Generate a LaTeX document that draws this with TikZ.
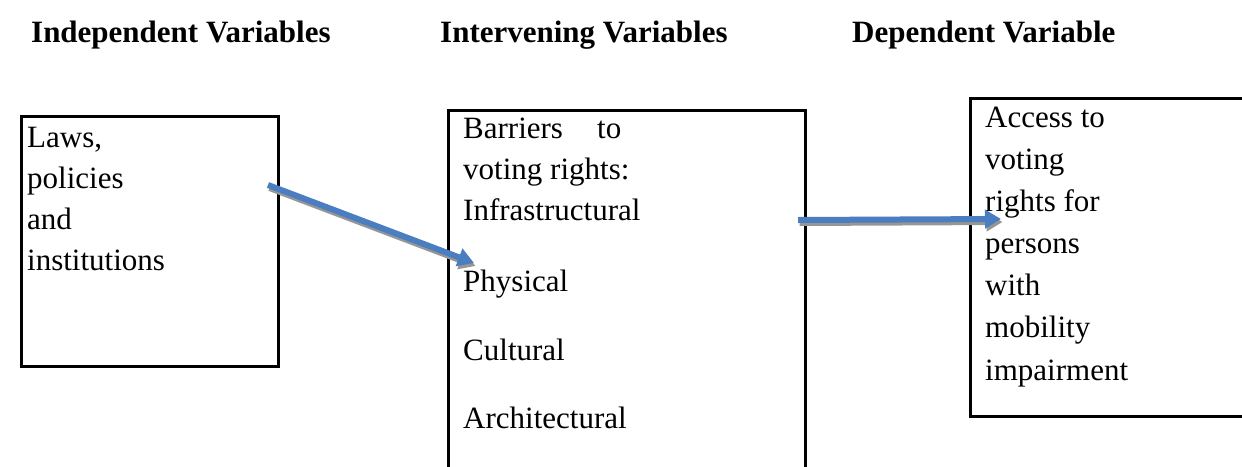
\documentclass[tikz,border=0pt]{standalone}
\usepackage{fontspec}
\setmainfont{Liberation Serif}
\usetikzlibrary{arrows.meta}
\definecolor{arrowblue}{RGB}{74,126,193}
\definecolor{shadowgray}{RGB}{150,150,150}
\begin{document}
\begin{tikzpicture}[x=1pt,y=-1pt,
  frame/.style={draw=black,line width=2.6pt,fill=none,inner sep=0pt,anchor=north west},
  head/.style={font=\fontsize{31}{36}\selectfont\bfseries,anchor=base west,inner sep=0pt},
  body/.style={font=\fontsize{31}{42}\selectfont,anchor=base west,inner sep=0pt},
  flow/.style={line width=6pt,draw=arrowblue,-{Triangle[length=16pt,width=18pt]}},
  flowshadow/.style={line width=6pt,draw=shadowgray,-{Triangle[length=16pt,width=18pt]}}]
\useasboundingbox (0,0) rectangle (1242,466);
\clip (0,0) rectangle (1242,466);

% column headings
\node[head] (hind) at (31,42) {Independent Variables};
\node[head] (hint) at (440,42) {Intervening Variables};
\node[head] (hdep) at (852,42) {Dependent Variable};

% boxes (the middle and right ones run past the page edge)
\node[frame,minimum width=257pt,minimum height=250pt] (lbox) at (20,115) {};
\node[frame,minimum width=357pt,minimum height=400pt] (mbox) at (447,109) {};
\node[frame,minimum width=320pt,minimum height=318pt] (rbox) at (969,97) {};

% independent variables
\node[body] (l1) at (27,147) {Laws,};
\node[body] (l2) at (27,188) {policies};
\node[body] (l3) at (27,229) {and};
\node[body] (l4) at (27,270) {institutions};

% intervening variables
\node[body] (m1a) at (463,138) {Barriers};
\node[body] (m1b) at (597,138) {to};
\node[body] (m2) at (463,179) {voting rights:};
\node[body] (m3) at (463,220) {Infrastructural};
\node[body] (m4) at (463,291) {Physical};
\node[body] (m5) at (463,360) {Cultural};
\node[body] (m6) at (463,428) {Architectural};

% dependent variable
\node[body] (r1) at (985,127) {Access to};
\node[body] (r2) at (985,169) {voting};
\node[body] (r3) at (985,211) {rights for};
\node[body] (r4) at (985,253) {persons};
\node[body] (r5) at (985,295) {with};
\node[body] (r6) at (985,337) {mobility};
\node[body] (r7) at (985,380) {impairment};

% arrow end points
\coordinate (a1s) at (268,185);
\coordinate (a1e) at (474,263);
\coordinate (a2s) at (798,220);
\coordinate (a2e) at (1001,219);

% arrows with a soft grey drop shadow
\draw[flowshadow] ([shift={(1.5,3)}]a1s) -- ([shift={(1.5,3)}]a1e);
\draw[flow] (a1s) -- (a1e);
\draw[flowshadow] ([shift={(1.5,3)}]a2s) -- ([shift={(1.5,3)}]a2e);
\draw[flow] (a2s) -- (a2e);
\end{tikzpicture}
\end{document}
